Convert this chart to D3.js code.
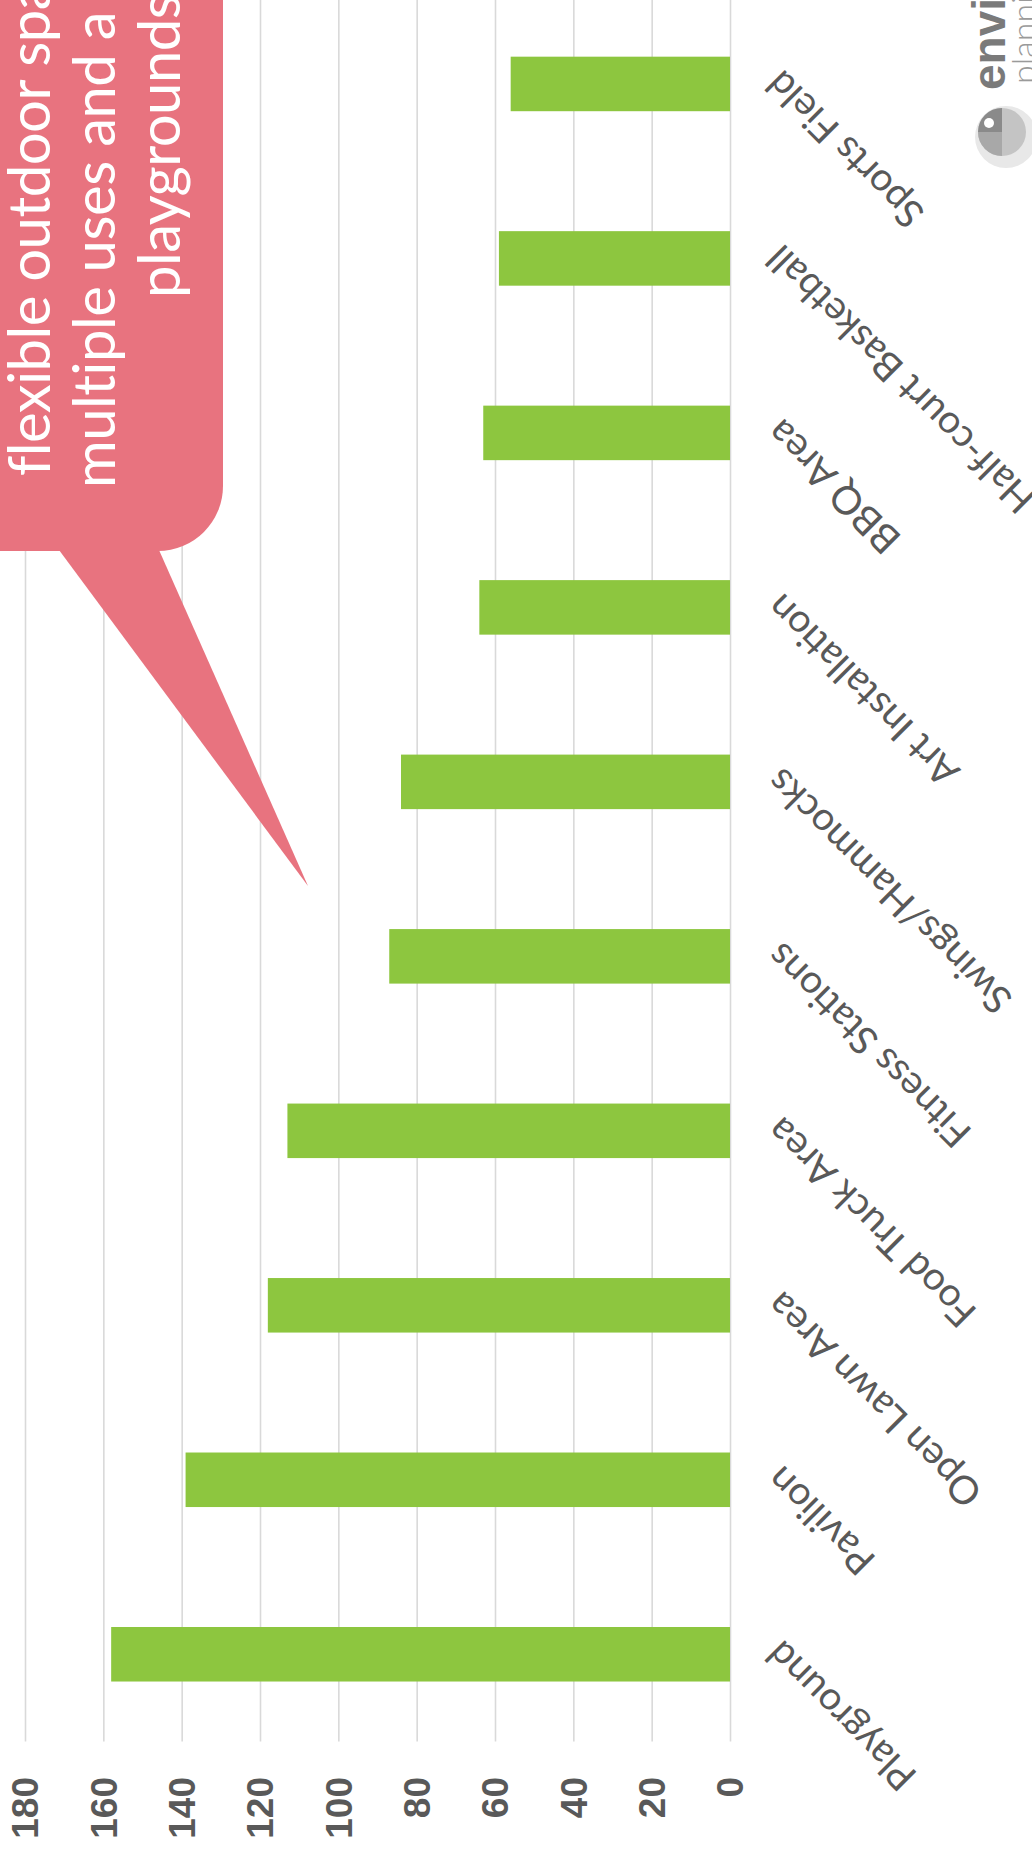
<!DOCTYPE html>
<html>
<head>
<meta charset="utf-8">
<script src="https://cdn.jsdelivr.net/npm/d3@7"></script>
<style>
  html, body { margin: 0; padding: 0; background: #ffffff; overflow: hidden; }
  svg { display: block; }
</style>
</head>
<body>
<svg id="chart"></svg>
<script>
// Amenity preferences (number of responses), ordered from most to least wanted
const categories = [
  "Playground", "Pavilion", "Open Lawn Area", "Food Truck Area", "Fitness Stations",
  "Swings/Hammocks", "Art Installation", "BBQ Area", "Half-court Basketball", "Sports Field"
];
const responses = [158, 139, 118, 113, 87, 84, 64, 63, 59, 56];
const valueTicks = [0, 20, 40, 60, 80, 100, 120, 140, 160, 180];
const calloutLines = ["flexible outdoor space", "multiple uses and a", "playgrounds"];
const logoLines = ["envision", "planning"];

const pageW = 1032, pageH = 1858;

const svg = d3.select("#chart").attr("width", pageW).attr("height", pageH);

// The chart is laid out in landscape and turned a quarter turn onto the page
const chart = svg.append("g")
  .attr("transform", `translate(0,${pageH}) rotate(-90)`);

const plotLeft = 116.5, plotRight = 1861.3;
const axisY = 730, topY = 25;

const x = d3.scaleBand()
  .domain(categories)
  .range([plotLeft, plotRight])
  .paddingInner(0.6875)
  .paddingOuter(0.34375);

const y = d3.scaleLinear().domain([0, 180]).range([axisY, topY]);

// value axis: gridlines + bold tick labels
const yAxis = chart.append("g")
  .attr("transform", `translate(${plotLeft},0)`)
  .call(d3.axisLeft(y)
    .tickValues(valueTicks)
    .tickSize(-(plotRight - plotLeft))
    .tickPadding(35.5)
    .tickFormat(d3.format("d")));
yAxis.select(".domain").remove();
yAxis.selectAll(".tick line")
  .attr("stroke", "#d9d9d9")
  .attr("stroke-width", 1.6);
yAxis.selectAll(".tick text")
  .attr("fill", "#595959")
  .attr("font-family", "'Liberation Sans', Arial, sans-serif")
  .attr("font-weight", "bold")
  .attr("font-size", 37)
  .attr("dy", "0.35em");

// bars
chart.append("g")
  .selectAll("rect")
  .data(categories)
  .join("rect")
  .attr("x", d => x(d))
  .attr("width", x.bandwidth())
  .attr("y", (d, i) => y(responses[i]))
  .attr("height", (d, i) => y(0) - y(responses[i]))
  .attr("fill", "#8dc63f");

// category axis with slanted labels
const xAxis = chart.append("g")
  .attr("transform", `translate(0,${axisY})`)
  .call(d3.axisBottom(x).tickSize(0).tickPadding(0));
xAxis.select(".domain").remove();
xAxis.selectAll(".tick text")
  .attr("fill", "#595959")
  .attr("font-family", "Lato, 'Open Sans', sans-serif")
  .attr("font-size", 39)
  .attr("text-anchor", "end")
  .attr("y", 0)
  .attr("dy", "0.72em")
  .attr("transform", "translate(-4,33) rotate(-45)");

// speech-bubble annotation
const callout = svg.append("g");
callout.append("path")
  .attr("d", "M-20,-20 H223 V486 A65,65 0 0 1 158,551 H-20 Z")
  .attr("fill", "#e8737f");
callout.append("path")
  .attr("d", "M59,550 L159,550 L308,886 Z")
  .attr("fill", "#e8737f");
const calloutPos = [[50, 476], [115, 488], [180, 298]];
callout.selectAll("text")
  .data(calloutLines)
  .join("text")
  .attr("transform", (d, i) => `translate(${calloutPos[i][0]},${calloutPos[i][1]}) rotate(-90)`)
  .attr("fill", "#ffffff")
  .attr("font-family", "Lato, 'Open Sans', sans-serif")
  .attr("font-size", 58)
  .attr("letter-spacing", -0.5)
  .text(d => d);

// logo mark
const logo = svg.append("g");
logo.append("circle").attr("cx", 1006).attr("cy", 137).attr("r", 31).attr("fill", "#e8e8e8");
logo.append("circle").attr("cx", 1002).attr("cy", 132).attr("r", 24).attr("fill", "#c4c4c4");
logo.append("path")
  .attr("d", "M1002,108 A24,24 0 0 0 978,132 H1002 Z")
  .attr("fill", "#8a8a8a");
logo.append("path")
  .attr("d", "M978,132 A24,24 0 0 0 1002,156 V132 Z")
  .attr("fill", "#a8a8a8");
logo.append("circle").attr("cx", 989).attr("cy", 123).attr("r", 5).attr("fill", "#ffffff");
logo.append("text")
  .attr("transform", "translate(1005,90) rotate(-90)")
  .attr("fill", "#7a7a7a")
  .attr("font-family", "'Liberation Sans', Arial, sans-serif")
  .attr("font-weight", "bold")
  .attr("font-size", 46)
  .text(logoLines[0]);
logo.append("text")
  .attr("transform", "translate(1036,84) rotate(-90)")
  .attr("fill", "#9a9a9a")
  .attr("font-family", "Lato, sans-serif")
  .attr("font-weight", 300)
  .attr("font-size", 34)
  .text(logoLines[1]);
</script>
</body>
</html>
